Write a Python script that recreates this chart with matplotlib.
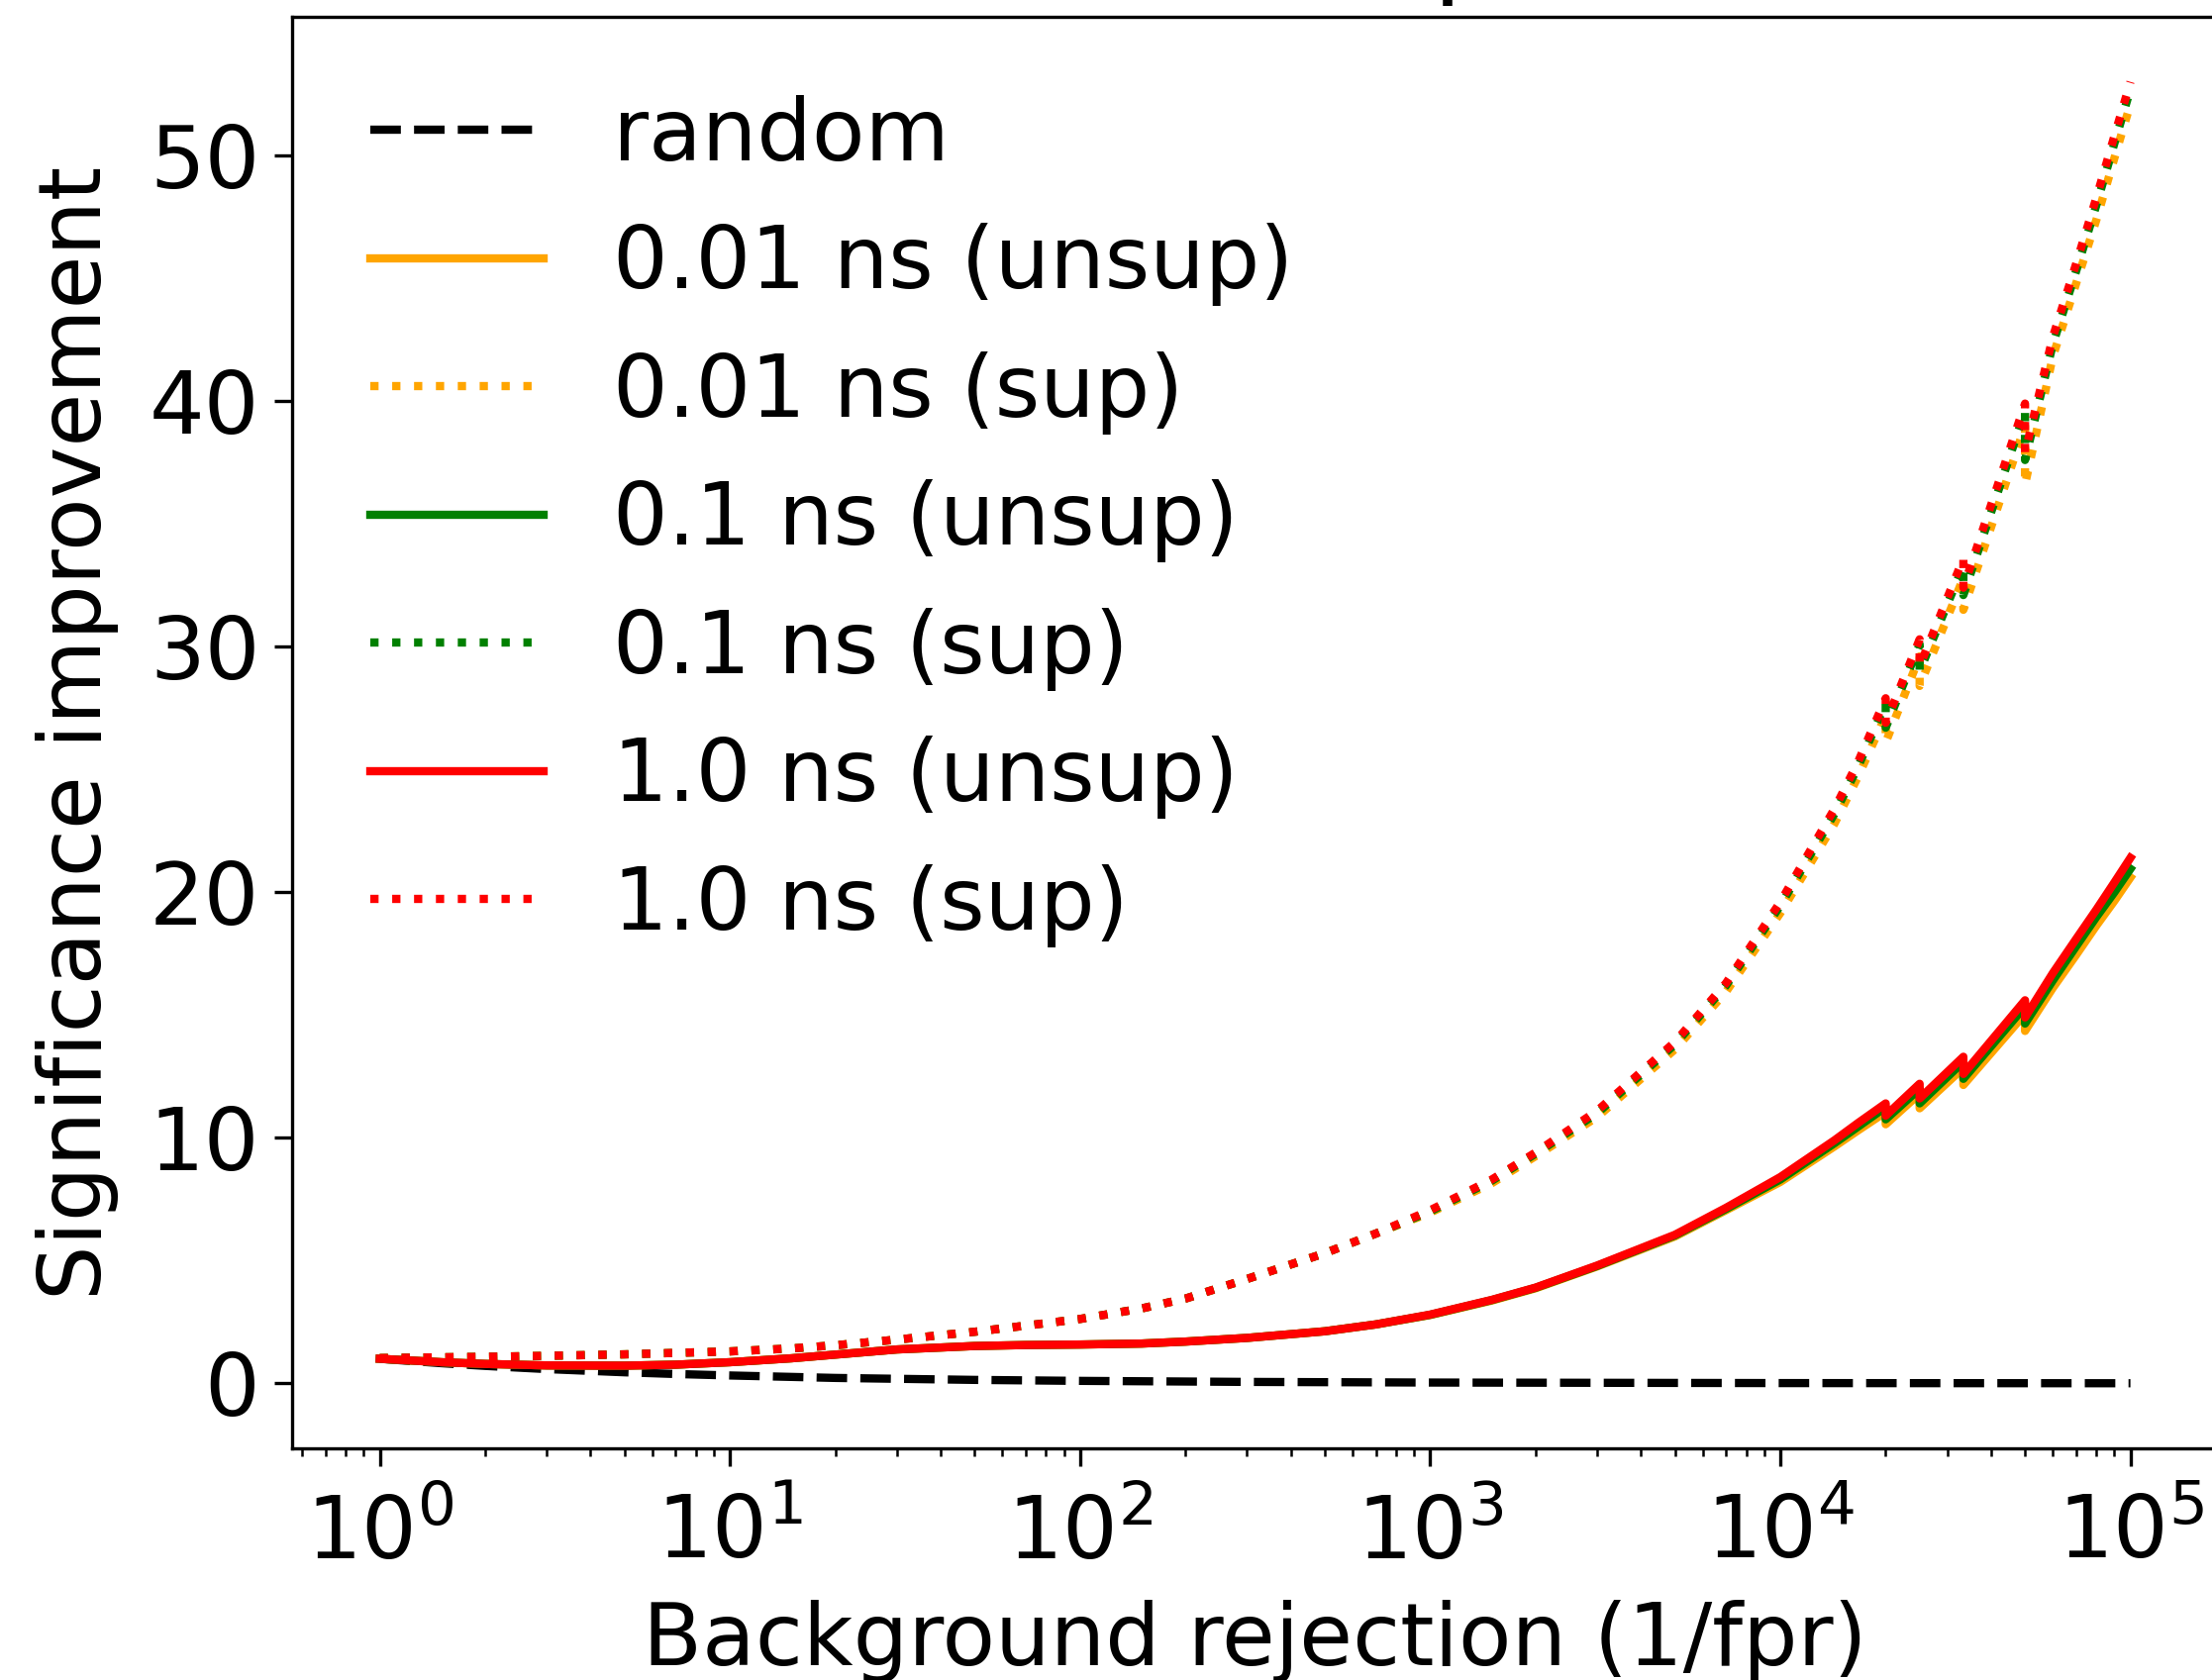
import numpy as np
import matplotlib.pyplot as plt

# background rejection (1/fpr) sample points; repeated x = vertical drop in the ROC
rejection = [1, 1.5, 2, 3, 5, 7, 10, 15, 20, 30, 50, 70, 100, 150, 200, 300,
             500, 700, 1000, 1500, 2000, 3000, 5000, 7000, 10000, 14286, 16667,
             20000, 20000, 25000, 25000, 33333, 33333, 50000, 50000,
             60000, 70000, 80000, 90000, 100000]

random_x = [1, 1.5, 2, 3, 5, 7, 10, 20, 50, 100, 300, 1000, 10000, 100000]
random_y = [1.0, 0.82, 0.71, 0.58, 0.45, 0.38, 0.32, 0.22, 0.14, 0.10, 0.058,
            0.032, 0.01, 0.003]

low_sup = [1.03, 1.06, 1.08, 1.12, 1.18, 1.24, 1.30, 1.42, 1.55, 1.78, 2.10,
           2.35, 2.62, 3.05, 3.45, 4.25, 5.30, 6.10]
low_unsup = [1.00, 0.86, 0.79, 0.73, 0.72, 0.76, 0.86, 1.02, 1.17, 1.38, 1.52,
             1.56, 1.58, 1.62, 1.70, 1.85, 2.12, 2.40]

sup_001 = low_sup + [6.95, 8.15, 9.25, 10.85, 13.6, 15.95, 19.15, 22.8, 24.7,
                     27.2, 26.1, 29.6, 28.4, 32.8, 31.5, 39.0, 36.6,
                     41.8, 44.8, 47.4, 49.9, 52.1]
sup_01 = low_sup + [7.0, 8.25, 9.35, 11.0, 13.8, 16.2, 19.45, 23.2, 25.1,
                    27.7, 26.7, 30.1, 29.0, 33.3, 32.1, 39.6, 37.6,
                    42.3, 45.3, 48.0, 50.5, 52.7]
sup_1 = low_sup + [7.05, 8.30, 9.40, 11.1, 13.9, 16.3, 19.6, 23.4, 25.3,
                   27.9, 26.9, 30.3, 29.2, 33.6, 32.4, 39.9, 37.9,
                   42.6, 45.6, 48.3, 50.8, 53.0]

unsup_001 = low_unsup + [2.78, 3.37, 3.87, 4.76, 5.98, 7.05, 8.2, 9.65, 10.3,
                         11.05, 10.55, 11.8, 11.2, 12.85, 12.15, 15.05, 14.35,
                         16.1, 17.45, 18.65, 19.65, 20.6]
unsup_01 = low_unsup + [2.79, 3.39, 3.89, 4.78, 6.02, 7.1, 8.3, 9.78, 10.45,
                        11.25, 10.75, 12.0, 11.4, 13.1, 12.4, 15.35, 14.65,
                        16.4, 17.8, 19.0, 20.0, 20.95]
unsup_1 = low_unsup + [2.80, 3.40, 3.90, 4.80, 6.05, 7.15, 8.4, 9.9, 10.6,
                       11.4, 10.9, 12.2, 11.6, 13.3, 12.6, 15.6, 14.9,
                       16.7, 18.1, 19.3, 20.4, 21.4]

resolutions = ['0.01', '0.1', '1.0']
colors = ['orange', 'green', 'red']
unsup_curves = [unsup_001, unsup_01, unsup_1]
sup_curves = [sup_001, sup_01, sup_1]

plt.rcParams['font.size'] = 21
plt.rcParams['lines.linewidth'] = 2

fig = plt.figure(figsize=(2234 / 300, 1697 / 300), dpi=300)
ax = fig.add_axes([0.1321, 0.1379, 0.8706, 0.8521])

ax.plot(random_x, random_y, 'k--', label='random')
for res, col, yu, ys in zip(resolutions, colors, unsup_curves, sup_curves):
    ax.plot(rejection, yu, color=col, linestyle='-', label=f'{res} ns (unsup)')
    ax.plot(rejection, ys, color=col, linestyle=':', label=f'{res} ns (sup)')

ax.set_xscale('log')
ax.set_xlabel('Background rejection (1/fpr)', labelpad=5.7)
ax.set_ylabel('Significance improvement', labelpad=7.4)
# title sits mostly above the visible area, as in the cropped original
ax.set_title('Resolution comparison', pad=7.9, x=0.4856)
ax.tick_params(which='major', length=4.4)
ax.tick_params(axis='x', which='major', pad=6.5)
ax.legend(loc='upper left', frameon=False, labelspacing=0.52)

fig.savefig('out.png', dpi=300)
